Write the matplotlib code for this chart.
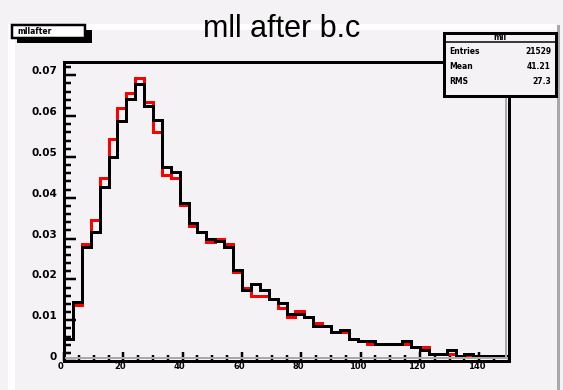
import matplotlib
matplotlib.use("Agg")
import matplotlib.pyplot as plt
import numpy as np
from matplotlib.patches import Rectangle
from matplotlib.lines import Line2D
from matplotlib.transforms import ScaledTranslation

# ---------------- data ----------------
bin_edges = np.linspace(0, 150, 51)
red_values = [0.0055, 0.0137, 0.0286, 0.0345, 0.0447, 0.0544, 0.0619, 0.0656, 0.0692, 0.0634,
              0.0562, 0.0455, 0.0449, 0.0382, 0.0330, 0.0315, 0.0292, 0.0300, 0.0286, 0.0219,
              0.0180, 0.0159, 0.0159, 0.0151, 0.0131, 0.0108, 0.0122, 0.0108, 0.0092, 0.0085,
              0.0070, 0.0070, 0.0055, 0.0049, 0.0041, 0.0041, 0.0041, 0.0041, 0.0041, 0.0035,
              0.0035, 0.0018, 0.0018, 0.0018, 0.0012, 0.0012, 0.0012, 0.0012, 0.0012, 0.0012]
black_values = [0.0055, 0.0145, 0.0278, 0.0315, 0.0425, 0.0500, 0.0589, 0.0642, 0.0678, 0.0625,
                0.0590, 0.0476, 0.0462, 0.0388, 0.0337, 0.0315, 0.0299, 0.0294, 0.0280, 0.0223,
                0.0175, 0.0188, 0.0174, 0.0151, 0.0143, 0.0115, 0.0115, 0.0108, 0.0085, 0.0085,
                0.0070, 0.0077, 0.0055, 0.0049, 0.0049, 0.0041, 0.0041, 0.0041, 0.0049, 0.0035,
                0.0026, 0.0018, 0.0018, 0.0026, 0.0012, 0.0018, 0.0012, 0.0012, 0.0012, 0.0012]
x_ticks = [0, 20, 40, 60, 80, 100, 120, 140]
x_tick_labels = ["0", "20", "40", "60", "80", "100", "120", "140"]
y_ticks = [0, 0.01, 0.02, 0.03, 0.04, 0.05, 0.06, 0.07]
y_tick_labels = ["0", "0.01", "0.02", "0.03", "0.04", "0.05", "0.06", "0.07"]
title = "mll after b.c"
hist_name = "mllafter"
stats_title = "mll"
stats_rows = [("Entries", "21529"), ("Mean", "41.21"), ("RMS", "27.3")]

# ---------------- figure ----------------
W, H = 563, 390
BG = "#f5f2f5"
GRAY = "#a9a9a9"
fig = plt.figure(figsize=(W / 100, H / 100), dpi=100, facecolor=BG)

def fx(x):
    return x / W

def fy(y):
    return 1 - y / H

px = 72 / 100  # points per pixel

# pad bevel: white top/left, gray right
fig.add_artist(Rectangle((fx(8), fy(30)), fx(549), 6 / H, transform=fig.transFigure,
                         facecolor="white", edgecolor="none", zorder=0))
fig.add_artist(Rectangle((fx(8), 0), 7 / W, fy(25), transform=fig.transFigure,
                         facecolor="white", edgecolor="none", zorder=0))
fig.add_artist(Rectangle((fx(557), 0), 3 / W, fy(25), transform=fig.transFigure,
                         facecolor=GRAY, edgecolor="none", zorder=0))

# axes
left, right, top, bottom = 64, 509, 62, 361
ax = fig.add_axes([fx(left), fy(bottom), (right - left) / W, (bottom - top) / H])
ax.set_facecolor(BG)
ax.set_xlim(0, 150)
ax.set_ylim(0, (bottom - top) / 4083)

ax.stairs(red_values, bin_edges, color="#ff0000", linewidth=3 * px, baseline=0, zorder=3)
ax.stairs(black_values, bin_edges, color="black", linewidth=3 * px, baseline=0, zorder=4)

for s in ax.spines.values():
    s.set_linewidth(3 * px)
    s.set_color("black")

ax.set_xticks(x_ticks)
ax.set_xticklabels(x_tick_labels)
ax.set_yticks(y_ticks)
ax.set_yticklabels(y_tick_labels)
ax.set_xticks(np.arange(0, 151, 5), minor=True)
ax.set_yticks(np.arange(0, 0.0731, 0.002), minor=True)

ax.tick_params(axis="y", which="major", direction="in", length=12 * px, width=2.5 * px,
               pad=7 * px, labelsize=7.5)
ax.tick_params(axis="y", which="minor", direction="in", length=7 * px, width=2.5 * px)
ax.tick_params(axis="x", which="major", direction="in", length=9 * px, width=2.5 * px,
               pad=1, labelsize=6)
ax.tick_params(axis="x", which="minor", direction="in", length=6 * px, width=2.5 * px)
ax.tick_params(top=False, right=False, which="both")

for lab in ax.get_yticklabels():
    lab.set_fontweight("bold")
    lab.set_transform(lab.get_transform() + ScaledTranslation(0, 5 / 100, fig.dpi_scale_trans))
for lab in ax.get_xticklabels():
    lab.set_fontweight("bold")
    lab.set_transform(lab.get_transform() + ScaledTranslation(-3 / 100, 0, fig.dpi_scale_trans))

# gray inner line along the bottom of the frame
fig.add_artist(Line2D([fx(left + 2), fx(right - 2)], [fy(358), fy(358)], transform=fig.transFigure,
                      color=GRAY, linewidth=2 * px, zorder=2))
fig.add_artist(Line2D([fx(right - 3), fx(right - 3)], [fy(top + 2), fy(358)], transform=fig.transFigure,
                      color=GRAY, linewidth=2 * px, zorder=2))

# title
fig.text(fx(282), fy(37), title, ha="center", va="baseline", fontsize=22,
         family="Liberation Sans", color="black")

# histogram-name box (top left) with shadow
fig.add_artist(Rectangle((fx(17), fy(43)), 75 / W, 13 / H, transform=fig.transFigure,
                         facecolor="black", edgecolor="none", zorder=5))
fig.add_artist(Rectangle((fx(12), fy(38)), 73 / W, 13 / H, transform=fig.transFigure,
                         facecolor="white", edgecolor="black", linewidth=2.5 * px, zorder=6))
fig.text(fx(17), fy(32), hist_name, ha="left", va="center", fontsize=5.5, fontweight="bold",
         color="black", zorder=7)

# stats box
fig.add_artist(Rectangle((fx(444), fy(96)), 112 / W, 63 / H, transform=fig.transFigure,
                         facecolor=BG, edgecolor="black", linewidth=3 * px, zorder=5))
fig.add_artist(Line2D([fx(444), fx(556)], [fy(42), fy(42)], transform=fig.transFigure,
                      color="black", linewidth=1.5 * px, zorder=6))
fig.text(fx(500), fy(37.5), stats_title, ha="center", va="center", fontsize=5.5,
         fontweight="bold", zorder=7)
for i, (k, v) in enumerate(stats_rows):
    yy = 52 + i * 14.5
    fig.text(fx(449), fy(yy), k, ha="left", va="center", fontsize=5.5, fontweight="bold", zorder=7)
    fig.text(fx(551), fy(yy), v, ha="right", va="center", fontsize=5.5, fontweight="bold", zorder=7)

fig.savefig("out.png", dpi=100, facecolor=BG)
